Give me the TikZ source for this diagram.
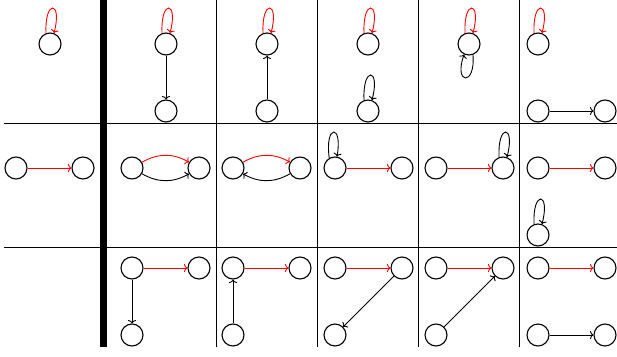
\documentclass[tikz,border=0pt]{standalone}
\usetikzlibrary{arrows.meta}
\begin{document}
\begin{tikzpicture}[x=1pt,y=1pt,
  >={To[length=3.5pt,width=8pt]},
  v/.style={circle,draw,line width=1.1pt,minimum size=22pt,inner sep=0pt},
  e/.style={->,line width=0.9pt},
  r/.style={e,red},
  lu/.style={out=93,in=75,distance=34pt},
  ld/.style={out=-85,in=-110,distance=32pt},
  gridline/.style={line width=0.9pt}]
\useasboundingbox (0,0) rectangle (617,356);
% grid
\fill (99.5,9) rectangle (106.5,356);
\draw[gridline] (4,233) -- (617,233) (4,109) -- (617,109);
\foreach \x in {216.5,317.5,418.5,519.5} \draw[gridline] (\x,9) -- (\x,356);

% ---------- row 0 ----------
\node[v] (a00) at (50,312) {};
\draw[r] (a00.110) to[lu] (a00.70);

\node[v] (a10) at (166,312) {};
\node[v] (b10) at (166,245) {};
\draw[r] (a10.110) to[lu] (a10.70);
\draw[e] (a10) -- (b10);

\node[v] (a20) at (267,312) {};
\node[v] (b20) at (267,245) {};
\draw[r] (a20.110) to[lu] (a20.70);
\draw[e] (b20) -- (a20);

\node[v] (a30) at (368,312) {};
\node[v] (b30) at (368,245) {};
\draw[r] (a30.110) to[lu] (a30.70);
\draw[e] (b30.110) to[lu] (b30.70);

\node[v] (a40) at (469,312) {};
\draw[r] (a40.110) to[lu] (a40.70);
\draw[e] (a40.-70) to[ld] (a40.-115);

\node[v] (a50) at (538,312) {};
\node[v] (b50) at (538,245) {};
\node[v] (c50) at (605,245) {};
\draw[r] (a50.110) to[lu] (a50.70);
\draw[e] (b50) -- (c50);

% ---------- row 1 ----------
\node[v] (a01) at (16,188) {};
\node[v] (b01) at (83,188) {};
\draw[r] (a01) -- (b01);

\node[v] (a11) at (132,188) {};
\node[v] (b11) at (199,188) {};
\draw[r] (a11) to[bend left=30] (b11);
\draw[e] (a11) to[bend right=30] (b11);

\node[v] (a21) at (233,188) {};
\node[v] (b21) at (300,188) {};
\draw[r] (a21) to[bend left=30] (b21);
\draw[e] (b21) to[bend left=30] (a21);

\node[v] (a31) at (335,188) {};
\node[v] (b31) at (402,188) {};
\draw[r] (a31) -- (b31);
\draw[e] (a31.120) to[out=98,in=80,distance=34pt] (a31.80);

\node[v] (a41) at (436,188) {};
\node[v] (b41) at (503,188) {};
\draw[r] (a41) -- (b41);
\draw[e] (b41.110) to[lu] (b41.70);

\node[v] (a51) at (538,188) {};
\node[v] (b51) at (605,188) {};
\node[v] (c51) at (538,121) {};
\draw[r] (a51) -- (b51);
\draw[e] (c51.110) to[lu] (c51.70);

% ---------- row 2 ----------
\node[v] (a12) at (132,88) {};
\node[v] (b12) at (199,88) {};
\node[v] (c12) at (132,21) {};
\draw[r] (a12) -- (b12);
\draw[e] (a12) -- (c12);

\node[v] (a22) at (233,88) {};
\node[v] (b22) at (300,88) {};
\node[v] (c22) at (233,21) {};
\draw[r] (a22) -- (b22);
\draw[e] (c22) -- (a22);

\node[v] (a32) at (335,88) {};
\node[v] (b32) at (402,88) {};
\node[v] (c32) at (335,21) {};
\draw[r] (a32) -- (b32);
\draw[e] (b32) -- (c32);

\node[v] (a42) at (436,88) {};
\node[v] (b42) at (503,88) {};
\node[v] (c42) at (436,21) {};
\draw[r] (a42) -- (b42);
\draw[e] (c42) -- (b42);

\node[v] (a52) at (538,88) {};
\node[v] (b52) at (605,88) {};
\node[v] (c52) at (538,21) {};
\node[v] (d52) at (605,21) {};
\draw[r] (a52) -- (b52);
\draw[e] (c52) -- (d52);
\end{tikzpicture}
\end{document}
